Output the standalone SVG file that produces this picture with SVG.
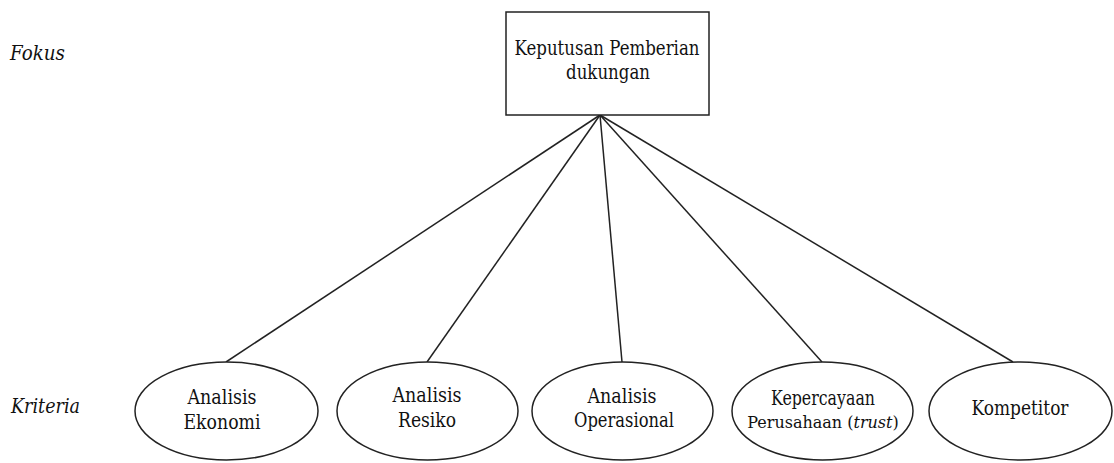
<svg xmlns="http://www.w3.org/2000/svg" width="1114" height="463" viewBox="0 0 1114 463">
<style>
text{font-family:'DejaVu Serif','Liberation Serif','Times New Roman',serif;font-size:20px;fill:#111;text-anchor:middle}
.lab{font-style:italic;text-anchor:start}
.sm{font-size:16px}
.shape{fill:#fff;stroke:#222;stroke-width:1.5}
.conn line{stroke:#222;stroke-width:1.5}
</style>
<rect width="1114" height="463" fill="#fff"/>
<text class="lab" x="10" y="60" textLength="55" lengthAdjust="spacingAndGlyphs">Fokus</text>
<text class="lab" x="11" y="413" textLength="69" lengthAdjust="spacingAndGlyphs">Kriteria</text>
<g class="conn" id="connectors">
<line x1="600" y1="115" x2="226" y2="362"/>
<line x1="600" y1="115" x2="427" y2="362"/>
<line x1="600" y1="115" x2="622" y2="362"/>
<line x1="600" y1="115" x2="822" y2="362"/>
<line x1="600" y1="115" x2="1013" y2="362"/>
</g>
<g id="focus">
<rect class="shape" x="506" y="12" width="203" height="103"/>
<text x="607" y="55" textLength="185" lengthAdjust="spacingAndGlyphs">Keputusan Pemberian</text>
<text x="608" y="79" textLength="84" lengthAdjust="spacingAndGlyphs">dukungan</text>
</g>
<g id="ekonomi">
<ellipse class="shape" cx="226.5" cy="411" rx="91.5" ry="49"/>
<text x="222" y="404" textLength="69" lengthAdjust="spacingAndGlyphs">Analisis</text>
<text x="222" y="429" textLength="77" lengthAdjust="spacingAndGlyphs">Ekonomi</text>
</g>
<g id="resiko">
<ellipse class="shape" cx="427.5" cy="411" rx="90.5" ry="49"/>
<text x="427" y="402" textLength="69" lengthAdjust="spacingAndGlyphs">Analisis</text>
<text x="427" y="427" textLength="58" lengthAdjust="spacingAndGlyphs">Resiko</text>
</g>
<g id="operasional">
<ellipse class="shape" cx="622.5" cy="411" rx="90.5" ry="49"/>
<text x="622" y="403" textLength="69" lengthAdjust="spacingAndGlyphs">Analisis</text>
<text x="624" y="427" textLength="100" lengthAdjust="spacingAndGlyphs">Operasional</text>
</g>
<g id="kepercayaan">
<ellipse class="shape" cx="822.5" cy="411" rx="90.5" ry="49"/>
<text x="823" y="405" textLength="104" lengthAdjust="spacingAndGlyphs">Kepercayaan</text>
<text class="sm" x="823" y="428">Perusahaan (<tspan font-style="italic">trust</tspan>)</text>
</g>
<g id="kompetitor">
<ellipse class="shape" cx="1020.5" cy="411" rx="91.5" ry="49"/>
<text x="1020" y="415" textLength="97" lengthAdjust="spacingAndGlyphs">Kompetitor</text>
</g>
</svg>
